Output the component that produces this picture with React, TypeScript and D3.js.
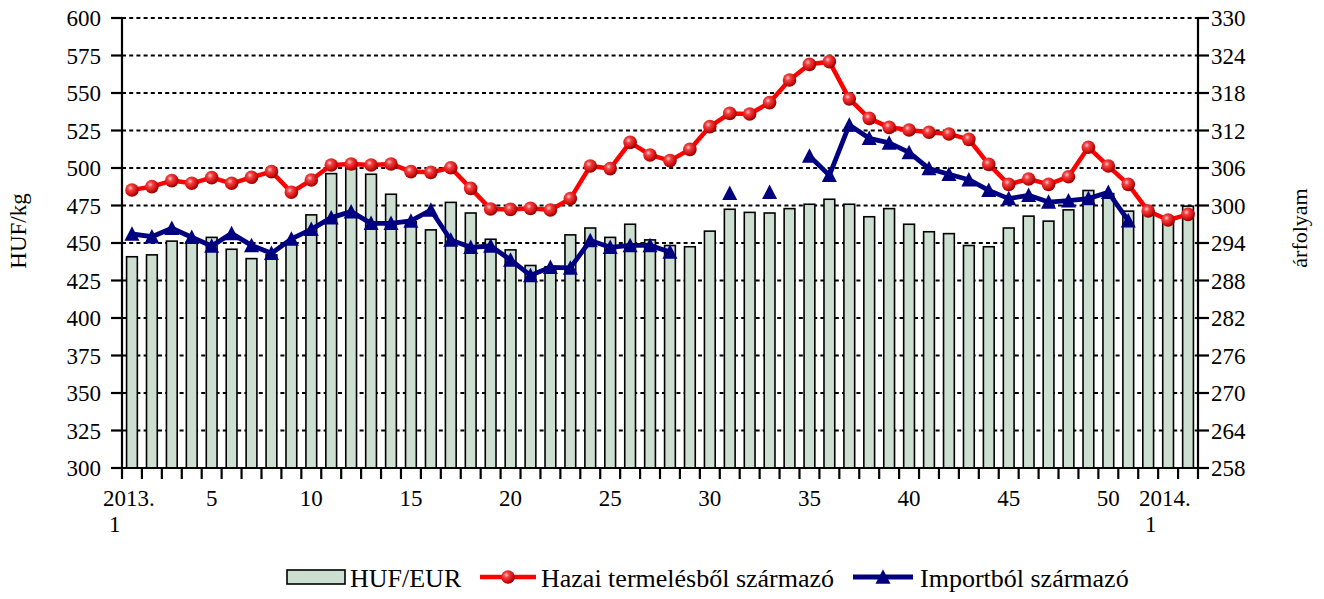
import React from "react";
import * as d3 from "d3";

// ---- data ----
const weeks: string[] = [
  "1","2","3","4","5","6","7","8","9","10","11","12","13","14","15","16","17","18","19","20",
  "21","22","23","24","25","26","27","28","29","30","31","32","33","34","35","36","37","38","39","40",
  "41","42","43","44","45","46","47","48","49","50","51","52","2014-1","2014-2",
];

// HUF/EUR exchange rate (right axis)
const hufEur: number[] = [
  291.8, 292.1, 294.3, 294.2, 294.9, 293.0, 291.5, 292.1, 293.8, 298.5,
  305.1, 305.9, 305.0, 301.8, 297.4, 296.1, 300.5, 298.8, 294.6, 292.9,
  290.4, 290.2, 295.3, 296.4, 294.9, 297.0, 294.5, 293.6, 293.4, 295.9,
  299.4, 298.9, 298.8, 299.5, 300.2, 301.0, 300.2, 298.2, 299.5, 297.0,
  295.8, 295.5, 293.6, 293.4, 296.4, 298.3, 297.5, 299.3, 302.4, 301.9,
  299.1, 298.8, 297.8, 299.9,
];

// Hazai termelésből származó (left axis, HUF/kg)
const hazai: number[] = [
  485.3, 487.6, 491.6, 489.8, 493.6, 489.8, 493.8, 497.6, 483.8, 492.0,
  502.0, 502.7, 502.0, 502.7, 497.6, 497.1, 500.2, 486.4, 472.7, 472.4,
  473.1, 472.0, 479.6, 501.3, 499.6, 517.1, 508.7, 504.9, 512.4, 527.6,
  536.4, 536.0, 543.6, 558.7, 569.1, 570.9, 546.1, 533.1, 527.1, 525.3,
  523.8, 522.7, 519.1, 502.4, 489.1, 492.7, 489.1, 494.2, 513.8, 501.3,
  489.1, 471.3, 465.3, 469.1,
];

// Importból származó (left axis, HUF/kg)
const importb: (number | null)[] = [
  456.0, 454.2, 459.8, 453.8, 448.0, 456.4, 448.4, 443.1, 452.7, 459.1,
  466.9, 470.9, 463.1, 463.1, 464.7, 472.0, 452.0, 447.1, 448.0, 438.7,
  428.4, 433.8, 433.4, 451.6, 447.1, 448.4, 448.4, 444.0, null, null,
  483.1, null, 483.8, null, 508.0, 495.1, 528.7, 519.8, 516.7, 510.4,
  499.6, 495.8, 492.2, 485.1, 479.6, 481.8, 477.3, 478.2, 479.6, 483.8,
  464.9, null, null, null,
];

const xLabels: { index: number; lines: string[] }[] = [
  { index: 0, lines: ["2013.", "1"] },
  { index: 4, lines: ["5"] },
  { index: 9, lines: ["10"] },
  { index: 14, lines: ["15"] },
  { index: 19, lines: ["20"] },
  { index: 24, lines: ["25"] },
  { index: 29, lines: ["30"] },
  { index: 34, lines: ["35"] },
  { index: 39, lines: ["40"] },
  { index: 44, lines: ["45"] },
  { index: 49, lines: ["50"] },
  { index: 52, lines: ["2014.", "1"] },
];

const leftTicks: number[] = [300, 325, 350, 375, 400, 425, 450, 475, 500, 525, 550, 575, 600];
const rightTicks: number[] = [258, 264, 270, 276, 282, 288, 294, 300, 306, 312, 318, 324, 330];

const seriesNames = ["HUF/EUR", "Hazai termelésből származó", "Importból származó"];

// ---- layout ----
const W = 1324, H = 599;
const L = 122, R = 1198, T = 18, B = 468;
const FONT = "'Liberation Serif', 'Times New Roman', serif";

function triPath(cx: number, cy: number, s: number) {
  const h = s * 0.9;
  return `M${cx},${cy - h / 2 - 1}L${cx + s / 2},${cy + h / 2}L${cx - s / 2},${cy + h / 2}Z`;
}

export default function App() {
  const x = d3.scaleBand<number>().domain(d3.range(weeks.length)).range([L, R]).padding(0);
  const bw = x.bandwidth();
  const cx = (i: number) => (x(i) as number) + bw / 2;
  const yL = d3.scaleLinear().domain([300, 600]).range([B, T]);
  const yR = d3.scaleLinear().domain([258, 330]).range([B, T]);

  const barW = bw * 0.54;

  const lineHazai = d3.line<number>().x((_, i) => cx(i)).y((d) => yL(d));
  const lineImport = d3
    .line<number | null>()
    .defined((d) => d != null)
    .x((_, i) => cx(i))
    .y((d) => yL(d as number));

  return (
    <svg width={W} height={H} style={{ position: "absolute", left: 0, top: 0, background: "#fff" }} fontFamily={FONT}>
      <defs>
        <radialGradient id="ball" cx="38%" cy="35%" r="65%">
          <stop offset="0%" stopColor="#ffc8c8" />
          <stop offset="30%" stopColor="#f24040" />
          <stop offset="75%" stopColor="#d01010" />
          <stop offset="100%" stopColor="#900000" />
        </radialGradient>
      </defs>

      {/* gridlines */}
      {leftTicks.slice(1).map((t) => (
        <line key={"g" + t} x1={L} x2={R} y1={yL(t)} y2={yL(t)} stroke="#000" strokeWidth={2} strokeDasharray="4,3.2" />
      ))}

      {/* bars */}
      {hufEur.map((v, i) => (
        <rect
          key={"b" + i}
          x={cx(i) - barW / 2}
          y={yR(v)}
          width={barW}
          height={B - yR(v)}
          fill="#cddfd1"
          stroke="#000"
          strokeWidth={1.6}
        />
      ))}

      {/* axes */}
      <line x1={L} x2={L} y1={T} y2={B + 1} stroke="#000" strokeWidth={2.2} />
      <line x1={R} x2={R} y1={T} y2={B + 1} stroke="#000" strokeWidth={2.2} />
      <line x1={L - 11} x2={R + 11} y1={B} y2={B} stroke="#000" strokeWidth={2.2} />
      {leftTicks.map((t) => (
        <g key={"lt" + t}>
          <line x1={L - 11} x2={L} y1={yL(t)} y2={yL(t)} stroke="#000" strokeWidth={2.2} />
          <text x={L - 21} y={yL(t)} dy="0.35em" textAnchor="end" fontSize={23}>
            {t}
          </text>
        </g>
      ))}
      {rightTicks.map((t) => (
        <g key={"rt" + t}>
          <line x1={R} x2={R + 11} y1={yR(t)} y2={yR(t)} stroke="#000" strokeWidth={2.2} />
          <text x={R + 13} y={yR(t)} dy="0.35em" textAnchor="start" fontSize={23}>
            {t}
          </text>
        </g>
      ))}
      {d3.range(weeks.length + 1).map((i) => (
        <line key={"xt" + i} x1={L + i * bw} x2={L + i * bw} y1={B} y2={B + 11} stroke="#000" strokeWidth={2.2} />
      ))}
      {xLabels.map((lab) => {
        const multi = lab.lines.length > 1;
        if (multi) {
          const px = cx(lab.index) - 29;
          return (
            <g key={"xl" + lab.index} fontSize={23}>
              <text x={px} y={506}>{lab.lines[0]}</text>
              <text x={px + 6} y={532}>{lab.lines[1]}</text>
            </g>
          );
        }
        return (
          <text key={"xl" + lab.index} x={cx(lab.index)} y={506} textAnchor="middle" fontSize={23}>
            {lab.lines[0]}
          </text>
        );
      })}

      {/* axis titles */}
      <text transform={`translate(26,231) rotate(-90)`} textAnchor="middle" fontSize={23}>
        HUF/kg
      </text>
      <text transform={`translate(1307,228) rotate(-90)`} textAnchor="middle" fontSize={22}>
        árfolyam
      </text>

      {/* Hazai line */}
      <path d={lineHazai(hazai) || ""} fill="none" stroke="#ff0000" strokeWidth={4.5} strokeLinejoin="round" />
      {hazai.map((v, i) => (
        <circle key={"hm" + i} cx={cx(i)} cy={yL(v)} r={6.8} fill="url(#ball)" />
      ))}

      {/* Import line */}
      <path d={lineImport(importb) || ""} fill="none" stroke="#000080" strokeWidth={4.8} strokeLinejoin="round" />
      {importb.map((v, i) =>
        v == null ? null : <path key={"im" + i} d={triPath(cx(i), yL(v), 15)} fill="#000080" />
      )}

      {/* legend */}
      <g fontSize={26}>
        <rect x={287} y={570} width={58} height={14} fill="#cddfd1" stroke="#000" strokeWidth={1.6} />
        <text x={350} y={587}>{seriesNames[0]}</text>
        <line x1={480} x2={536} y1={577} y2={577} stroke="#ff0000" strokeWidth={4.5} />
        <circle cx={508} cy={577} r={6.8} fill="url(#ball)" />
        <text x={541} y={587}>{seriesNames[1]}</text>
        <line x1={853} x2={913} y1={577} y2={577} stroke="#000080" strokeWidth={4.8} />
        <path d={triPath(883, 577, 15)} fill="#000080" />
        <text x={920} y={587}>{seriesNames[2]}</text>
      </g>
    </svg>
  );
}
